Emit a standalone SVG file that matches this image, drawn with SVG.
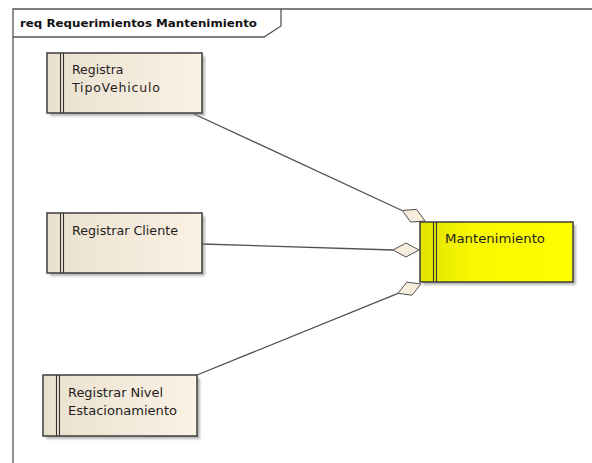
<svg xmlns="http://www.w3.org/2000/svg" width="592" height="463" viewBox="0 0 592 463">
  <defs>
    <linearGradient id="reqFill" x1="0" y1="0" x2="1" y2="0">
      <stop offset="0" stop-color="#eae0cf"/>
      <stop offset="1" stop-color="#fcf2e4"/>
    </linearGradient>
    <linearGradient id="mainFill" x1="0" y1="0" x2="1" y2="0">
      <stop offset="0" stop-color="#e2e200"/>
      <stop offset="0.35" stop-color="#f8f800"/>
      <stop offset="1" stop-color="#ffff00"/>
    </linearGradient>
    <filter id="soft" x="-10%" y="-10%" width="130%" height="140%">
      <feGaussianBlur stdDeviation="1.2"/>
    </filter>
  </defs>
  <style>
    .frame { fill: none; stroke: #555; stroke-width: 1.3; }
    .title { font-family: "DejaVu Sans", "Liberation Sans", sans-serif; font-size: 11px; font-weight: bold; fill: #111; }
    .shadow { fill: #8a8a8a; opacity: 0.6; filter: url(#soft); }
    .box { fill: url(#reqFill); stroke: #3c3c3c; stroke-width: 1.5; }
    .mainbox { fill: url(#mainFill); stroke: #3c3c3c; stroke-width: 1.5; }
    .bar { stroke: #333; stroke-width: 1.1; }
    .label { font-family: "DejaVu Sans", "Liberation Sans", sans-serif; font-size: 12.5px; fill: #1e1e1e; }
    .link { stroke: #505050; stroke-width: 1.3; fill: none; }
    .diamond { fill: #f8eedd; stroke: #505050; stroke-width: 1; }
  </style>

  <rect width="592" height="463" fill="#ffffff"/>

  <!-- diagram frame with its name tab -->
  <g id="frame">
    <path class="frame" d="M13,463 V9 H592"/>
    <path class="frame" d="M13,37 H264 L281,26 V9"/>
    <text class="title" x="20" y="27" textLength="237" lengthAdjust="spacingAndGlyphs">req Requerimientos Mantenimiento</text>
  </g>

  <!-- aggregation links, diamond at the whole end -->
  <g id="connectors">
    <line class="link" x1="194" y1="114" x2="402" y2="210.5"/>
    <polygon class="diamond" points="425,221 416.6,209.4 402.3,210.5 410.7,222.1"/>
    <line class="link" x1="202" y1="244" x2="393" y2="250"/>
    <polygon class="diamond" points="419,250 406,243 393,250 406,257"/>
    <line class="link" x1="197" y1="375" x2="398" y2="293.3"/>
    <polygon class="diamond" points="421,284 406.8,282.2 397.8,293.3 412,295.2"/>
  </g>

  <g id="registra-tipovehiculo">
    <rect class="shadow" x="50" y="56" width="155" height="60"/>
    <rect class="box" x="47" y="53" width="155" height="60"/>
    <line class="bar" x1="60.5" y1="53" x2="60.5" y2="113"/>
    <line class="bar" x1="63.5" y1="53" x2="63.5" y2="113"/>
    <text class="label" x="72" y="74">Registra</text>
    <text class="label" x="72" y="92" textLength="88" lengthAdjust="spacing">TipoVehiculo</text>
  </g>

  <g id="registrar-cliente">
    <rect class="shadow" x="50" y="216" width="155" height="60"/>
    <rect class="box" x="47" y="213" width="155" height="60"/>
    <line class="bar" x1="60.5" y1="213" x2="60.5" y2="273"/>
    <line class="bar" x1="63.5" y1="213" x2="63.5" y2="273"/>
    <text class="label" x="72" y="235" textLength="106" lengthAdjust="spacingAndGlyphs">Registrar Cliente</text>
  </g>

  <g id="registrar-nivel-estacionamiento">
    <rect class="shadow" x="46" y="378" width="154" height="61"/>
    <rect class="box" x="43" y="375" width="154" height="61"/>
    <line class="bar" x1="56.5" y1="375" x2="56.5" y2="436"/>
    <line class="bar" x1="59.5" y1="375" x2="59.5" y2="436"/>
    <text class="label" x="68" y="397" textLength="95" lengthAdjust="spacingAndGlyphs">Registrar Nivel</text>
    <text class="label" x="68" y="415" textLength="109" lengthAdjust="spacingAndGlyphs">Estacionamiento</text>
  </g>

  <g id="mantenimiento">
    <rect class="shadow" x="423" y="225" width="153" height="60"/>
    <rect class="mainbox" x="420" y="222" width="153" height="60"/>
    <line class="bar" x1="433.5" y1="222" x2="433.5" y2="282"/>
    <line class="bar" x1="436.5" y1="222" x2="436.5" y2="282"/>
    <text class="label" x="445" y="243" textLength="100" lengthAdjust="spacingAndGlyphs">Mantenimiento</text>
  </g>
</svg>
